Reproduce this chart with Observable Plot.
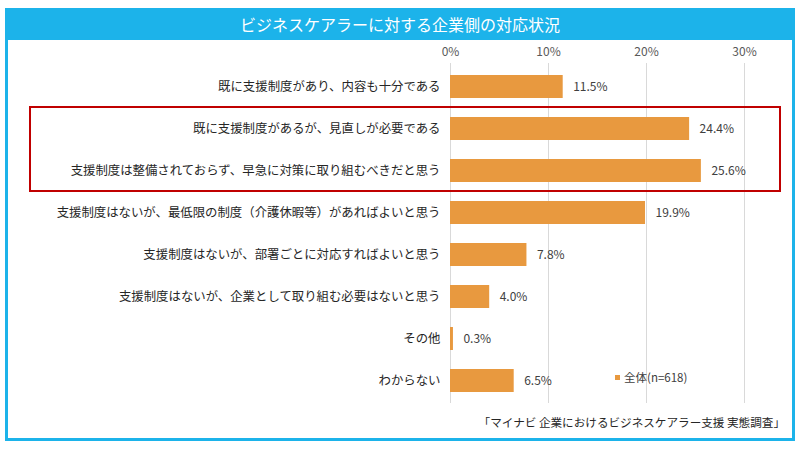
<!DOCTYPE html>
<html><head><meta charset="utf-8">
<script src="https://cdn.jsdelivr.net/npm/d3@7"></script>
<script src="https://cdn.jsdelivr.net/npm/@observablehq/plot@0.6"></script>
<style>
html,body{margin:0;padding:0;background:#fff;}
body{position:relative;width:800px;height:449px;overflow:hidden;font-family:"Noto Sans CJK JP","Noto Sans",sans-serif;}
#frame{position:absolute;left:5px;top:8px;width:784px;height:430px;border:3px solid #1CB3EA;border-top-width:0;}
#title{position:absolute;left:5px;top:8px;width:790px;height:32px;background:#1CB3EA;color:#fff;font-size:16px;line-height:32px;text-align:center;}
#chart{position:absolute;left:0;top:40px;}
#legend{position:absolute;left:615px;top:369px;font-size:11.5px;color:#404040;display:flex;align-items:center;}
#legend .sw{width:5px;height:5px;background:#E8993F;margin-right:4px;}
#source{position:absolute;right:15px;top:414px;font-size:11.6px;color:#262626;}
</style>
</head><body>
<div id="frame"></div>
<div id="title">ビジネスケアラーに対する企業側の対応状況</div>
<div id="chart"></div>
<div id="legend"><span class="sw"></span><span id="legendText"></span></div>
<div id="source"></div>
<script>
const categories = [
  "既に支援制度があり、内容も十分である",
  "既に支援制度があるが、見直しが必要である",
  "支援制度は整備されておらず、早急に対策に取り組むべきだと思う",
  "支援制度はないが、最低限の制度（介護休暇等）があればよいと思う",
  "支援制度はないが、部署ごとに対応すればよいと思う",
  "支援制度はないが、企業として取り組む必要はないと思う",
  "その他",
  "わからない"
];
const values = [11.5, 24.4, 25.6, 19.9, 7.8, 4.0, 0.3, 6.5];
const xTicks = [0, 10, 20, 30];
const highlighted = [categories[1], categories[2]];
const seriesName = "全体(n=618)";
const sourceText = "「マイナビ 企業におけるビジネスケアラー支援 実態調査」";

const data = categories.map((c, i) => ({category: c, value: values[i]}));
const font = '"Noto Sans CJK JP","Noto Sans",sans-serif';

const plot = Plot.plot({
  width: 800,
  height: 363,
  marginLeft: 450,
  marginRight: 56,
  marginTop: 23,
  marginBottom: 0,
  style: {background: "transparent", fontFamily: font, fontSize: "12px", color: "#262626", overflow: "visible"},
  x: {domain: [0, 30], label: null},
  y: {domain: categories, paddingInner: 0.46, paddingOuter: 0.21, align: 0.5, label: null},
  marks: [
    Plot.ruleX(xTicks, {stroke: "#D9D9D9", strokeWidth: 1}),
    Plot.axisX({anchor: "top", ticks: xTicks, tickFormat: d => d + "%", tickSize: 0, tickPadding: 8, fill: "#595959", fontSize: 12, label: null}),
    Plot.axisY({anchor: "left", tickSize: 0, tickPadding: 10, fill: "#262626", fontSize: 12.4, label: null}),
    Plot.barX(data, {x: "value", y: "category", fill: "#E8993F"}),
    Plot.text(data, {x: "value", y: "category", text: d => d.value.toFixed(1) + "%", textAnchor: "start", dx: 10, fill: "#404040", fontSize: 12})
  ]
});

const ys = plot.scale("y");
const hiTop = d3.min(highlighted, c => ys.apply(c));
const hiBot = d3.max(highlighted, c => ys.apply(c)) + ys.bandwidth;
d3.select(plot).append("rect")
  .attr("x", 30).attr("width", 750)
  .attr("y", hiTop - 10).attr("height", hiBot - hiTop + 19)
  .attr("fill", "none").attr("stroke", "#C00000").attr("stroke-width", 2);

document.getElementById("chart").appendChild(plot);
document.getElementById("legendText").textContent = seriesName;
document.getElementById("source").textContent = sourceText;
</script>
</body></html>
